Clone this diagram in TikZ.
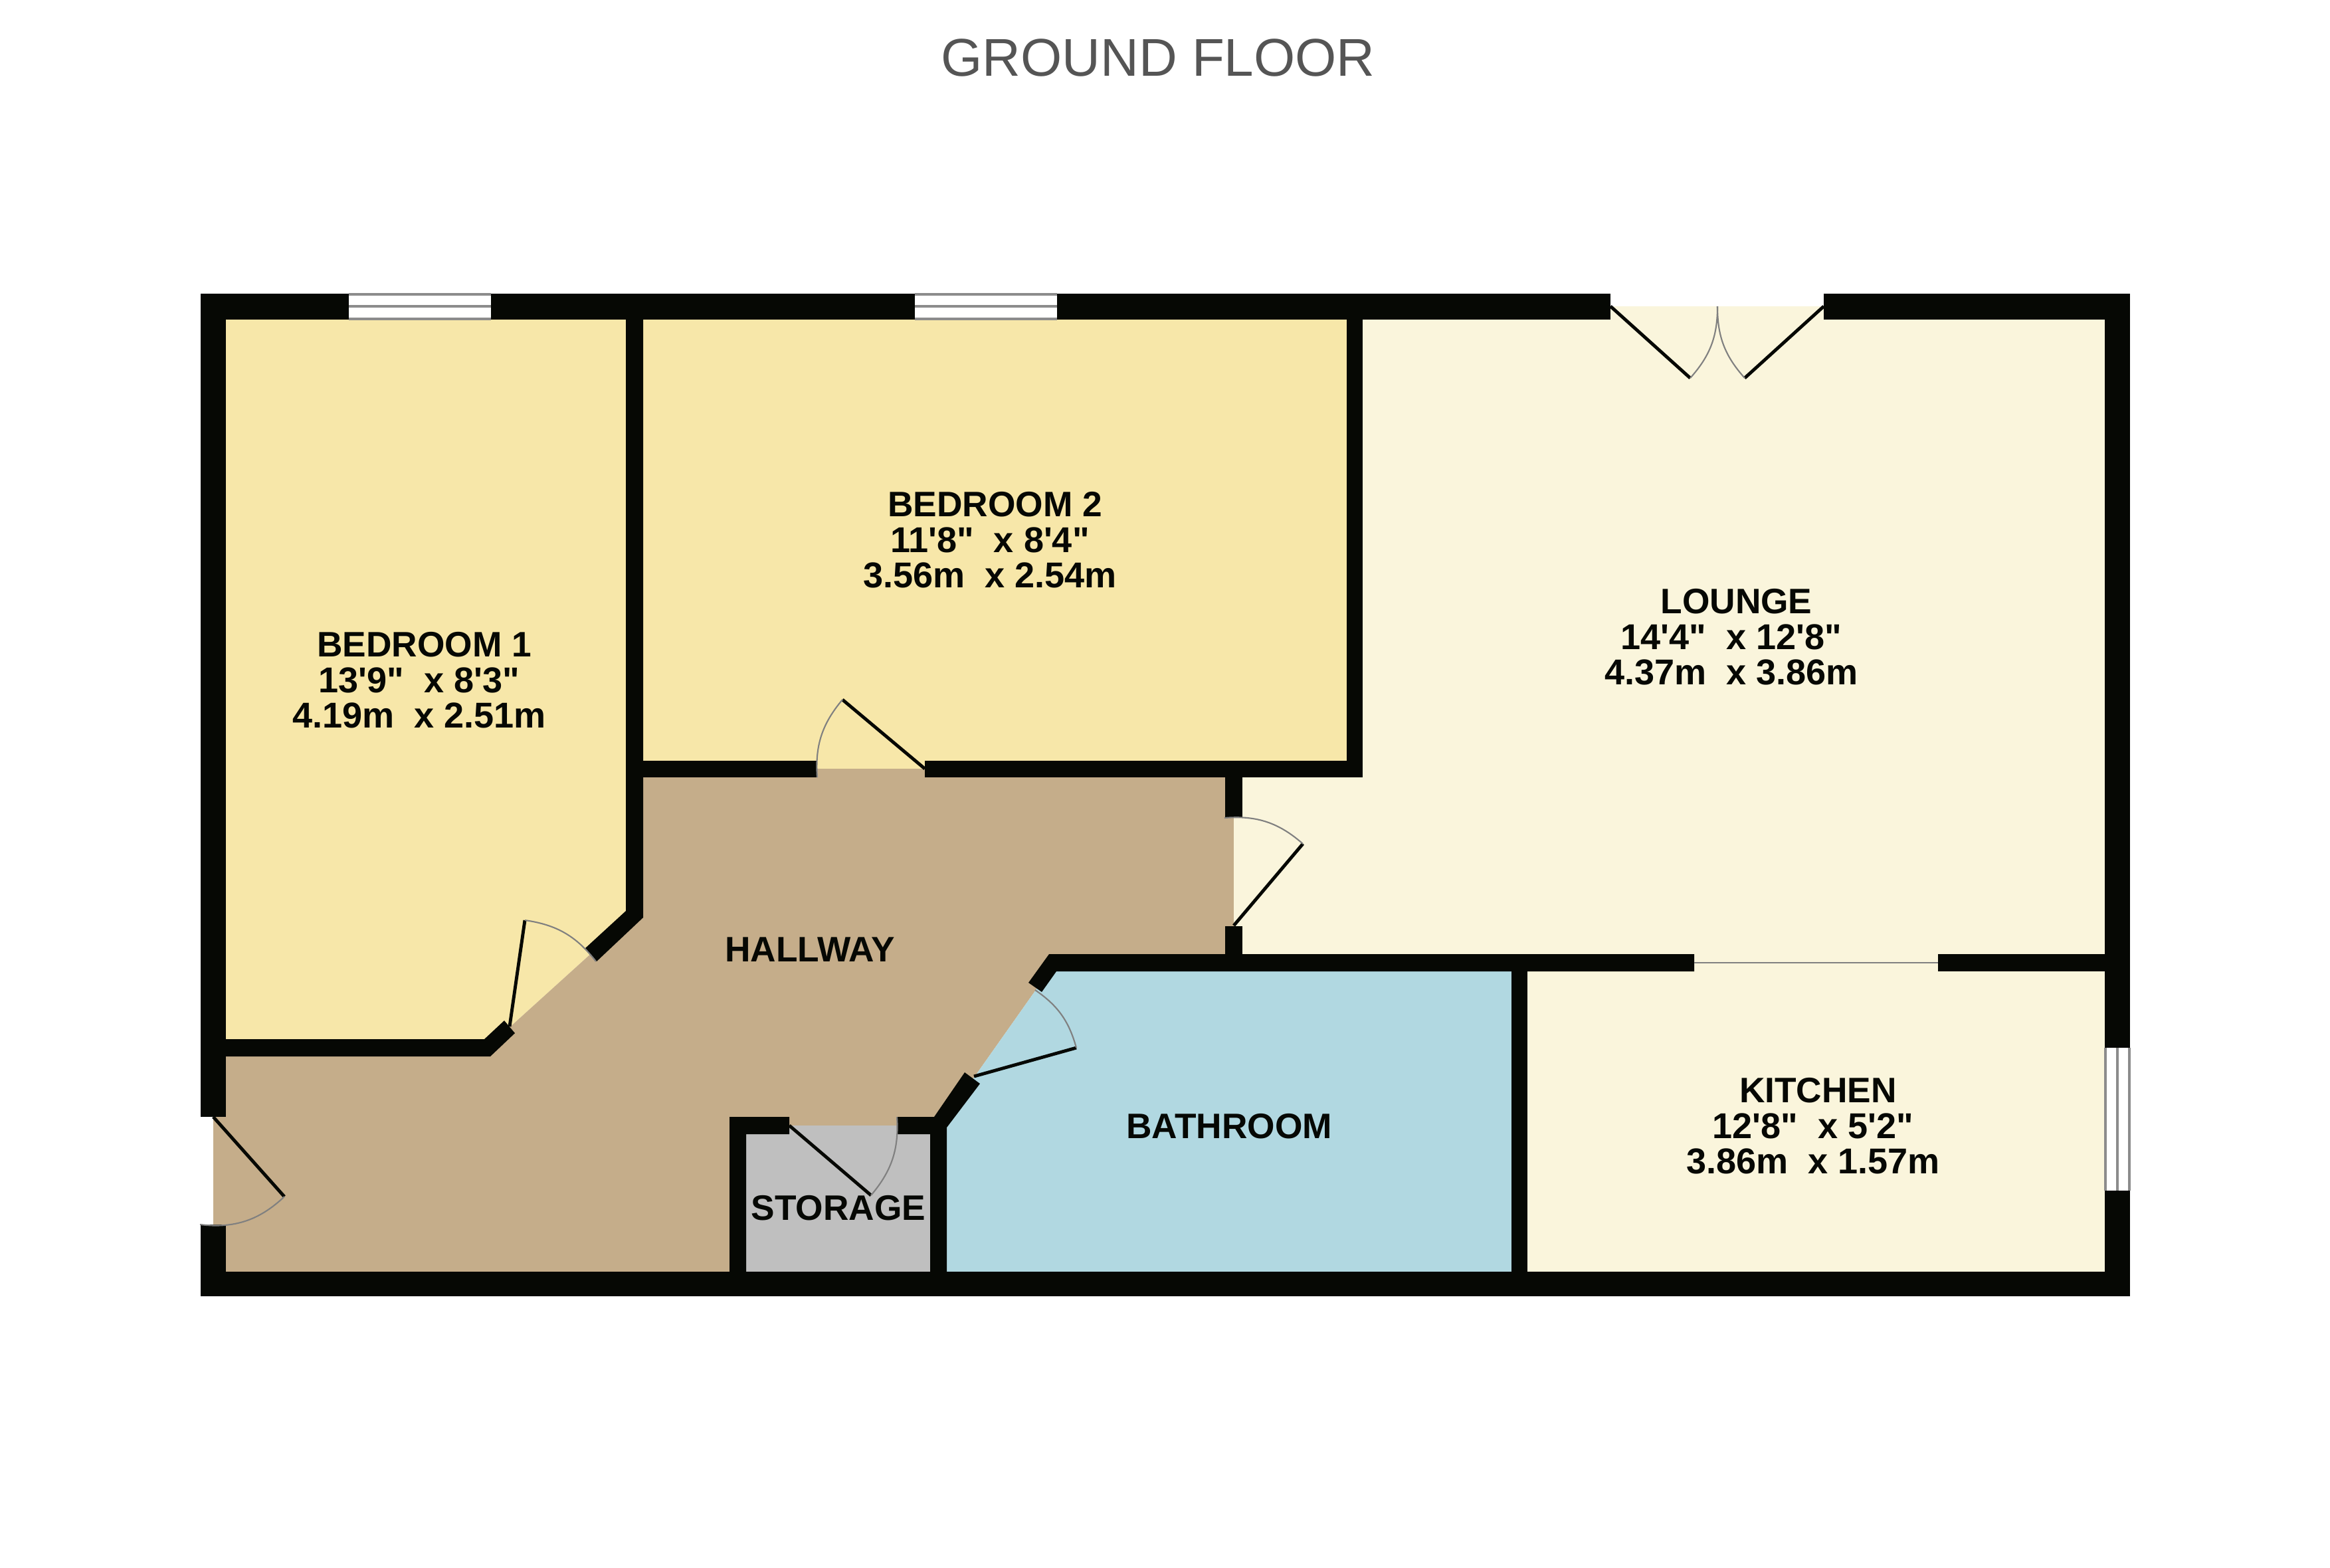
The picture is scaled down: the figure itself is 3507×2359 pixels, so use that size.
\documentclass[tikz,border=0pt]{standalone}
\usepackage{fontspec}
\newfontfamily\planfont{Liberation Sans}
\definecolor{wallblack}{HTML}{060804}
\definecolor{bedroomfloor}{HTML}{F7E7A9}
\definecolor{hallfloor}{HTML}{C5AD8A}
\definecolor{loungefloor}{HTML}{FAF5DC}
\definecolor{bathfloor}{HTML}{B1D8E1}
\definecolor{storefloor}{HTML}{BFBFBF}
\definecolor{titlegrey}{HTML}{555555}
\newcommand{\roomname}[1]{{\fontsize{15.15}{15.2}\selectfont #1}}
\tikzset{
    wall/.style={fill=wallblack},
    doorleaf/.style={wallblack,line width=1.4pt},
    doorarc/.style={gray,line width=0.6pt},
    pane/.style={gray!90,line width=1.2pt},
    roomlabel/.style={align=center,text=wallblack,inner sep=0pt,
        font=\planfont\bfseries\fontsize{15.37}{15.2}\selectfont}
}

\begin{document}
\begin{tikzpicture}[x=0.01cm,y=-0.01cm]
    \useasboundingbox (0,0) rectangle (3507,2359);
    % floors
    \fill[bedroomfloor] (321,481) -- (955,481) -- (955,1376) -- (733,1577) -- (321,1577) -- cycle;
    \fill[bedroomfloor] (955,481) -- (2039,481) -- (2039,1157) -- (955,1157) -- cycle;
    \fill[hallfloor] (321,1577) -- (733,1577) -- (955,1376) -- (955,1157) -- (1857,1157)
        -- (1857,1449) -- (1588,1449) -- (1415,1694) -- (1110,1694) -- (1110,1932) -- (321,1932) -- cycle;
    \fill[storefloor] (1110,1694) rectangle (1415,1932);
    \fill[bathfloor] (1588,1449) -- (2287,1449) -- (2287,1932) -- (1415,1932) -- (1415,1694) -- cycle;
    \fill[loungefloor] (2039,461) -- (3187,461) -- (3187,1449) -- (1857,1449) -- (1857,1157) -- (2039,1157) -- cycle;
    \fill[loungefloor] (2287,1449) rectangle (3168,1932);
    % straight walls
    \foreach \xa/\ya/\xb/\yb in {
        302/442/525/481, 739/442/1377/481, 1591/442/2424/481, 2745/442/3206/481,
        302/442/340/1681, 302/1843/340/1951, 302/1914/3206/1951,
        3168/442/3206/1577, 3168/1792/3206/1951,
        968/1145/1230/1170, 1392/1145/2051/1170, 2027/481/2051/1170,
        1844/1170/1870/1231, 1844/1394/1870/1436,
        2917/1436/3168/1462, 2275/1436/2299/1914}
        \fill[wall] (\xa,\ya) rectangle (\xb,\yb);
    % walls with a corner cut off
    \fill[wall] (942,481) -- (968,481) -- (968,1381) -- (898,1447) -- (881,1427) -- (942,1371) -- cycle;
    \fill[wall] (340,1564) -- (729,1564) -- (759,1536) -- (775,1555) -- (738,1590) -- (340,1590) -- cycle;
    \fill[wall] (1579,1436) -- (2550,1436) -- (2550,1462) -- (1590,1462) -- (1568,1493) -- (1548,1479) -- cycle;
    \fill[wall] (1350,1681) -- (1406,1681) -- (1452,1614) -- (1475,1631) -- (1425,1697)
        -- (1425,1914) -- (1400,1914) -- (1400,1707) -- (1350,1707) -- cycle;
    \fill[wall] (1098,1681) -- (1188,1681) -- (1188,1707) -- (1123,1707) -- (1123,1914) -- (1098,1914) -- cycle;
    % windows
    \foreach \xa/\xb in {525/739, 1377/1591} {
        \fill[white] (\xa,442) rectangle (\xb,481);
        \foreach \yy in {443,461,480}
            \draw[pane] (\xa,\yy) -- (\xb,\yy);
    }
    \fill[white] (3168,1577) rectangle (3206,1792);
    \foreach \xx in {3169,3187,3205}
        \draw[pane] (\xx,1577) -- (\xx,1792);
    % sliding door
    \draw[doorarc] (2550,1449) -- (2917,1449);
    % doors: hinge, leaf end, where the swing stops
    \coordinate (E1) at (321,1681);   \coordinate (E2) at (428,1801);   \coordinate (E3) at (301,1843);
    \coordinate (F1) at (767,1545);   \coordinate (F2) at (790,1385);   \coordinate (F3) at (897,1447);
    \coordinate (G1) at (1392,1157);  \coordinate (G2) at (1268,1053);  \coordinate (G3) at (1230,1170);
    \coordinate (H1) at (1857,1393);  \coordinate (H2) at (1961,1270);  \coordinate (H3) at (1843,1231);
    \coordinate (J1) at (1466,1620);  \coordinate (J2) at (1620,1577);  \coordinate (J3) at (1558,1490);
    \coordinate (K1) at (1188,1694);  \coordinate (K2) at (1311,1799);  \coordinate (K3) at (1350,1681);
    \coordinate (M1) at (2424,461);   \coordinate (M2) at (2544,569);   \coordinate (M3) at (2585,461);
    \coordinate (N1) at (2745,461);   \coordinate (N2) at (2626,569);
    \foreach \a/\b/\c/\ang in {E1/E2/E3/25, F1/F2/F3/22, G1/G2/G3/-22, H1/H2/H3/-23,
        J1/J2/J3/-20, K1/K2/K3/-22, M1/M2/M3/-21, N1/N2/M3/21} {
        \draw[doorleaf] (\a) -- (\b);
        \draw[doorarc] (\b) to[bend left=\ang] (\c);
    }
    % labels
    \node[font=\planfont\fontsize{22.75}{22.75}\selectfont,text=titlegrey,inner sep=0pt] (title) at (1743,87) {GROUND FLOOR};
    \node[roomlabel] (bedroomone) at (631,1024) {\ \roomname{BEDROOM 1}\\13'9"\ \ x 8'3"\\4.19m\ \ x 2.51m};
    \node[roomlabel] (bedroomtwo) at (1490,813) {\ \roomname{BEDROOM 2}\\11'8"\ \ x 8'4"\\3.56m\ \ x 2.54m};
    \node[roomlabel] (lounge) at (2606,959) {\ \roomname{LOUNGE}\\14'4"\ \ x 12'8"\\4.37m\ \ x 3.86m};
    \node[roomlabel] (kitchen) at (2729,1695) {\ \roomname{KITCHEN}\\12'8"\ \ x 5'2"\\3.86m\ \ x 1.57m};
    \node[roomlabel] (hallway) at (1219,1429) {\roomname{HALLWAY}};
    \node[roomlabel] (bathroom) at (1850,1695) {\roomname{BATHROOM}};
    \node[roomlabel] (storage) at (1262,1818) {\roomname{STORAGE}};
\end{tikzpicture}
\end{document}
